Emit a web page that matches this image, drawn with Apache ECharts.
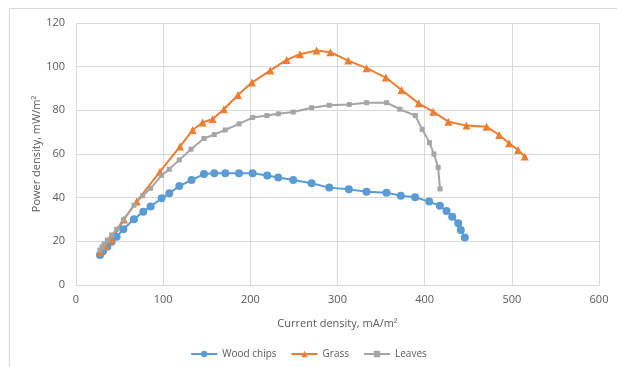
<!DOCTYPE html>
<html>
<head>
<meta charset="utf-8">
<script src="https://cdn.jsdelivr.net/npm/echarts@6/dist/echarts.min.js"></script>
<style>
  html, body { margin: 0; padding: 0; background: #fff; }
  #chart { width: 617px; height: 367px; }
</style>
</head>
<body>
<div id="chart"></div>
<script>
// data
var woodX = [27.5, 31, 35.9, 40.9, 46.6, 54.3, 66.5, 77.2, 85.6, 98.2, 107, 118.5, 132.6, 146.8, 158.6, 171.2, 187, 202.6, 219.4, 232, 249.2, 270.3, 290.5, 313, 333.3, 356.2, 372.7, 389, 405.2, 417.4, 425.1, 431.6, 438.5, 441.5, 446.1];
var woodY = [13.7, 15.5, 17.5, 19.8, 22.1, 25.5, 30.1, 33.6, 35.9, 39.7, 42, 45.3, 48.1, 50.8, 51.2, 51.2, 51.2, 51.2, 50.2, 49.2, 48.1, 46.6, 44.6, 43.8, 42.7, 42.3, 40.9, 40.2, 38.2, 36.3, 33.9, 31.3, 28.3, 25.2, 21.7];

var grassX = [28, 34, 41, 55, 69.6, 96.3, 119.3, 133.8, 145.3, 156.8, 169.7, 185.8, 201.8, 223, 241.6, 256.9, 276, 292, 312.3, 333.4, 355.5, 373.5, 393.2, 409.8, 427.2, 448, 471, 485.5, 496.9, 507.2, 514.9];
var grassY = [15, 18, 20.7, 30, 38.2, 51.9, 63.4, 71, 74.4, 76, 80.5, 87, 92.7, 98.3, 103.1, 105.7, 107.4, 106.6, 102.8, 99.3, 95, 89.3, 83.2, 79.4, 74.8, 73, 72.5, 68.7, 64.9, 61.8, 58.8];

var leavesX = [27.5, 30, 32.1, 35.9, 40.9, 46.6, 54.3, 66.5, 76.5, 85.6, 98.2, 107, 118.5, 131.9, 146.8, 158.6, 171.2, 187, 202.6, 219, 232, 249.2, 270.3, 290.5, 313.4, 333.4, 356.3, 371.6, 389.3, 397.2, 405.5, 410.6, 415.5, 417.6];
var leavesY = [16, 17.5, 18.8, 20.6, 22.9, 25.5, 29.8, 36.5, 40.9, 44.3, 50.2, 53, 57.3, 62.2, 67.1, 68.9, 71, 73.8, 76.7, 77.6, 78.4, 79.2, 81.2, 82.3, 82.7, 83.5, 83.5, 80.5, 77.6, 71.3, 65.2, 60, 53.9, 44];

var seriesNames = ['Wood chips', 'Grass', 'Leaves'];

function pairs(xs, ys) {
    var out = [];
    for (var i = 0; i < xs.length; i++) {
        out.push([xs[i], ys[i]]);
    }
    return out;
}

var font = 'Open Sans, Lato, sans-serif';
var gridColor = '#d9d9d9';
var textColor = '#595959';

var chart = echarts.init(document.getElementById('chart'));
var option = {
    animation: false,
    color: ['#5b9bd5', '#ed7d31', '#a5a5a5'],
    textStyle: { fontFamily: font },
    // outer chart frame
    graphic: [{
        type: 'rect',
        shape: { x: 9.5, y: 8.5, width: 620, height: 370 },
        style: { fill: null, stroke: gridColor, lineWidth: 1 },
        silent: true
    }],
    grid: { left: 76, right: 18, top: 23, bottom: 82 },
    legend: {
        data: seriesNames,
        bottom: 3,
        left: 'center',
        itemWidth: 26,
        itemHeight: 8,
        itemGap: 14,
        textStyle: { color: textColor, fontSize: 10, fontFamily: font }
    },
    xAxis: {
        type: 'value',
        min: 0,
        max: 600,
        interval: 100,
        name: 'Current density, mA/m²',
        nameLocation: 'middle',
        nameGap: 33,
        nameTextStyle: { color: textColor, fontSize: 11, fontFamily: font },
        axisLine: { show: true, lineStyle: { color: gridColor } },
        axisTick: { show: false },
        axisLabel: { color: textColor, fontSize: 11, margin: 9 },
        splitLine: { show: true, lineStyle: { color: gridColor, width: 1 } }
    },
    yAxis: {
        type: 'value',
        min: 0,
        max: 120,
        interval: 20,
        name: 'Power density, mW/m²',
        nameLocation: 'middle',
        nameGap: 34,
        nameMoveOverlap: false,
        nameTextStyle: { color: textColor, fontSize: 11, fontFamily: font },
        axisLine: { show: false },
        axisTick: { show: false },
        axisLabel: { color: textColor, fontSize: 11, margin: 11 },
        splitLine: { show: true, lineStyle: { color: gridColor, width: 1 } }
    },
    series: [
        {
            name: seriesNames[0],
            type: 'line',
            data: pairs(woodX, woodY),
            symbol: 'circle',
            symbolSize: 8,
            lineStyle: { width: 2 }
        },
        {
            name: seriesNames[1],
            type: 'line',
            data: pairs(grassX, grassY),
            symbol: 'triangle',
            symbolSize: 8,
            lineStyle: { width: 2 }
        },
        {
            name: seriesNames[2],
            type: 'line',
            data: pairs(leavesX, leavesY),
            symbol: 'rect',
            symbolSize: 5,
            lineStyle: { width: 2 }
        }
    ]
};
chart.setOption(option);
</script>
</body>
</html>
